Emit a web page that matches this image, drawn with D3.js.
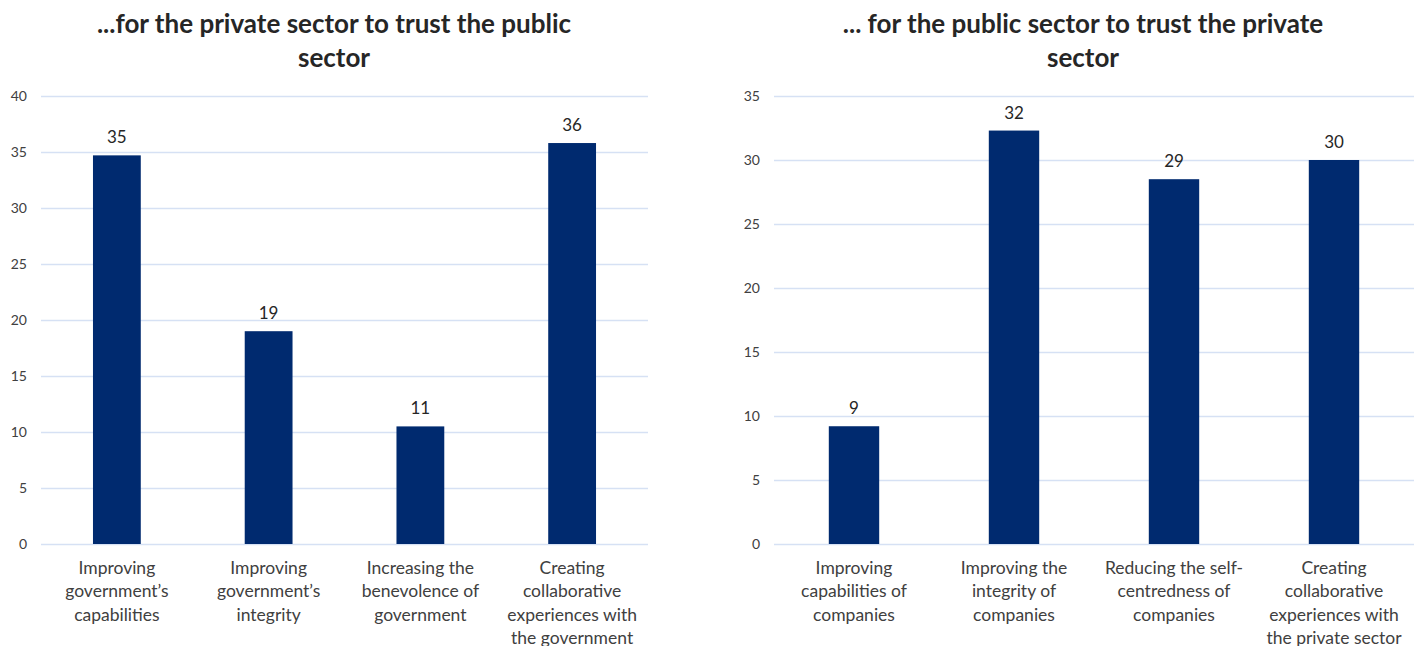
<!DOCTYPE html>
<html>
<head>
<meta charset="utf-8">
<script src="https://cdn.jsdelivr.net/npm/d3@7"></script>
<style>
  html, body { margin: 0; padding: 0; background: #fff; }
  svg { display: block; }
</style>
</head>
<body>
<svg id="chart" width="1421" height="646"></svg>
<script>
// ---- Data ----
const leftTitle = ["...for the private sector to trust the public", "sector"];
const leftCategories = [
  ["Improving", "government\u2019s", "capabilities"],
  ["Improving", "government\u2019s", "integrity"],
  ["Increasing the", "benevolence of", "government"],
  ["Creating", "collaborative", "experiences with", "the government"]
];
const leftValues = [34.7, 19.0, 10.5, 35.8];
const leftLabels = ["35", "19", "11", "36"];
const leftTicks = [0, 5, 10, 15, 20, 25, 30, 35, 40];

const rightTitle = ["... for the public sector to trust the private", "sector"];
const rightCategories = [
  ["Improving", "capabilities of", "companies"],
  ["Improving the", "integrity of", "companies"],
  ["Reducing the self-", "centredness of", "companies"],
  ["Creating", "collaborative", "experiences with", "the private sector"]
];
const rightValues = [9.2, 32.3, 28.5, 30.0];
const rightLabels = ["9", "32", "29", "30"];
const rightTicks = [0, 5, 10, 15, 20, 25, 30, 35];

const svg = d3.select("#chart");
const FONT = "Lato, 'Open Sans', sans-serif";

function drawChart(cfg) {
  const g = svg.append("g");
  const x = d3.scaleBand()
    .domain(cfg.categories.map((d, i) => i))
    .range([cfg.x0, cfg.x1])
    .paddingInner(0.685)
    .paddingOuter(0.3425);
  const y = d3.scaleLinear()
    .domain([0, d3.max(cfg.ticks)])
    .range([cfg.y0, cfg.y1]);

  // title
  g.append("text")
    .attr("x", cfg.titleX)
    .attr("y", 33)
    .attr("text-anchor", "middle")
    .attr("font-family", FONT)
    .attr("font-weight", "bold")
    .attr("font-size", 26)
    .attr("fill", "#262626")
    .selectAll("tspan")
    .data(cfg.title)
    .join("tspan")
    .attr("x", cfg.titleX)
    .attr("dy", (d, i) => i === 0 ? 0 : 34)
    .text(d => d);

  // gridlines
  const yAxis = d3.axisLeft(y).tickValues(cfg.ticks).tickSize(-(cfg.x1 - cfg.x0)).tickPadding(14);
  const ya = g.append("g")
    .attr("transform", `translate(${cfg.x0},0)`)
    .call(yAxis);
  ya.select(".domain").remove();
  ya.selectAll(".tick line").attr("stroke", "#D6E1F4").attr("stroke-width", 1.5);
  ya.selectAll(".tick text")
    .attr("font-family", FONT)
    .attr("font-size", 14)
    .attr("fill", "#404040");

  // bars
  g.selectAll("rect.bar")
    .data(cfg.values)
    .join("rect")
    .attr("class", "bar")
    .attr("x", (d, i) => x(i))
    .attr("width", x.bandwidth())
    .attr("y", d => y(d))
    .attr("height", d => y(0) - y(d))
    .attr("fill", "#002A6F");

  // value labels
  g.selectAll("text.val")
    .data(cfg.values)
    .join("text")
    .attr("class", "val")
    .attr("x", (d, i) => x(i) + x.bandwidth() / 2)
    .attr("y", d => y(d) - 12)
    .attr("text-anchor", "middle")
    .attr("font-family", FONT)
    .attr("font-size", 17)
    .attr("fill", "#262626")
    .text((d, i) => cfg.labels[i]);

  // category labels
  const cat = g.selectAll("text.cat")
    .data(cfg.categories)
    .join("text")
    .attr("class", "cat")
    .attr("text-anchor", "middle")
    .attr("font-family", FONT)
    .attr("font-size", 17.5)
    .attr("fill", "#404040");
  cat.each(function(lines, i) {
    const cx = x(i) + x.bandwidth() / 2;
    d3.select(this).selectAll("tspan")
      .data(lines)
      .join("tspan")
      .attr("x", cx)
      .attr("y", (d, j) => cfg.y0 + 30 + j * 23.3)
      .text(d => d);
  });
}

drawChart({
  title: leftTitle, categories: leftCategories, values: leftValues,
  labels: leftLabels, ticks: leftTicks,
  x0: 41, x1: 648, y0: 544, y1: 96, titleX: 334
});
drawChart({
  title: rightTitle, categories: rightCategories, values: rightValues,
  labels: rightLabels, ticks: rightTicks,
  x0: 774, x1: 1414, y0: 544, y1: 96, titleX: 1083
});
</script>
</body>
</html>
